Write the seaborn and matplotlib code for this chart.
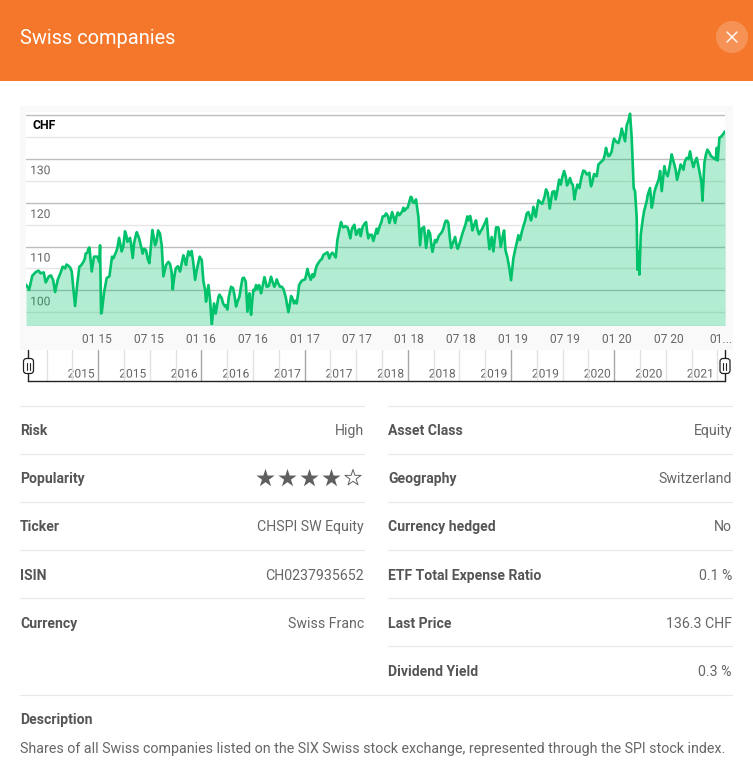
import numpy as np
import matplotlib
matplotlib.use("Agg")
import matplotlib.pyplot as plt
import matplotlib.patheffects as pe
from matplotlib.patches import Rectangle, Circle, FancyBboxPatch
from matplotlib.transforms import ScaledTranslation
import seaborn as sns

# price history (decimal year, CHF)
years = [
    2014.32, 2014.35, 2014.38, 2014.41, 2014.44, 2014.46, 2014.49, 2014.51, 2014.54, 2014.56,
    2014.58, 2014.60, 2014.625, 2014.654, 2014.673, 2014.728, 2014.76, 2014.776, 2014.792, 2014.814,
    2014.833, 2014.872, 2014.894, 2014.93, 2014.952, 2014.974, 2015.006, 2015.026, 2015.032, 2015.042,
    2015.048, 2015.07, 2015.096, 2015.122, 2015.147, 2015.176, 2015.2, 2015.215, 2015.24, 2015.272,
    2015.295, 2015.32, 2015.346, 2015.385, 2015.41, 2015.442, 2015.474, 2015.506, 2015.535, 2015.561,
    2015.59, 2015.625, 2015.641, 2015.667, 2015.705, 2015.731, 2015.76, 2015.801, 2015.833, 2015.859,
    2015.881, 2015.913, 2015.946, 2015.962, 2015.99, 2016.01, 2016.026, 2016.042, 2016.051, 2016.074,
    2016.09, 2016.106, 2016.128, 2016.144, 2016.17, 2016.202, 2016.234, 2016.256, 2016.292, 2016.311,
    2016.34, 2016.372, 2016.401, 2016.433, 2016.449, 2016.468, 2016.484, 2016.506, 2016.532, 2016.561,
    2016.58, 2016.612, 2016.635, 2016.676, 2016.708, 2016.731, 2016.763, 2016.795, 2016.817, 2016.843,
    2016.869, 2016.897, 2016.923, 2016.946, 2016.971, 2017.003, 2017.026, 2017.058, 2017.074, 2017.093,
    2017.115, 2017.147, 2017.18, 2017.218, 2017.237, 2017.266, 2017.298, 2017.314, 2017.349, 2017.372,
    2017.413, 2017.439, 2017.477, 2017.494, 2017.516, 2017.538, 2017.558, 2017.59, 2017.612, 2017.644,
    2017.66, 2017.692, 2017.724, 2017.75, 2017.782, 2017.814, 2017.84, 2017.869, 2017.894, 2017.923,
    2017.949, 2017.99, 2018.019, 2018.038, 2018.07, 2018.093, 2018.109, 2018.125, 2018.147, 2018.167,
    2018.189, 2018.205, 2018.228, 2018.253, 2018.276, 2018.308, 2018.333, 2018.356, 2018.381, 2018.407,
    2018.446, 2018.471, 2018.494, 2018.526, 2018.564, 2018.59, 2018.612, 2018.647, 2018.676, 2018.718,
    2018.75, 2018.776, 2018.798, 2018.814, 2018.84, 2018.862, 2018.885, 2018.917, 2018.93, 2018.949,
    2018.968, 2018.984, 2019.006, 2019.029, 2019.054, 2019.07, 2019.103, 2019.135, 2019.151, 2019.176,
    2019.199, 2019.221, 2019.247, 2019.295, 2019.32, 2019.337, 2019.356, 2019.381, 2019.413, 2019.446,
    2019.462, 2019.494, 2019.522, 2019.551, 2019.577, 2019.593, 2019.622, 2019.641, 2019.679, 2019.712,
    2019.737, 2019.753, 2019.782, 2019.808, 2019.824, 2019.872, 2019.897, 2019.92, 2019.952, 2019.974,
    2020.016, 2020.048, 2020.08, 2020.096, 2020.128, 2020.144, 2020.154, 2020.163, 2020.176, 2020.192,
    2020.199, 2020.212, 2020.218, 2020.231, 2020.25, 2020.263, 2020.288, 2020.32, 2020.337, 2020.362,
    2020.391, 2020.417, 2020.433, 2020.458, 2020.49, 2020.529, 2020.554, 2020.58, 2020.615, 2020.641,
    2020.673, 2020.705, 2020.737, 2020.769, 2020.801, 2020.824, 2020.843, 2020.872, 2020.907, 2020.952,
    2020.962, 2020.971, 2020.987, 2021.01, 2021.042,
]
chf = [
    101.3, 100.1, 103.3, 104.1, 104.5, 103.9, 104.1, 101.8, 103.2, 103.4,
    102.4, 99.6, 102.4, 104.1, 105.4, 105.6, 104.3, 100.2, 96.4, 101.7,
    105.4, 106.5, 108.4, 109.8, 104.3, 107.7, 107.7, 106.4, 110.3, 94.7,
    94.9, 99.4, 102.8, 103.2, 107.7, 108.2, 109.9, 112.0, 108.9, 113.5,
    111.1, 112.0, 107.4, 113.3, 111.7, 108.4, 109.2, 106.2, 113.8, 110.3,
    113.7, 110.3, 103.2, 105.8, 106.0, 100.2, 105.0, 104.3, 108.0, 105.8,
    108.9, 109.0, 102.4, 104.7, 107.7, 106.9, 102.0, 100.1, 97.4, 101.2,
    97.8, 92.1, 97.0, 94.7, 98.4, 98.2, 96.3, 95.6, 100.8, 100.5,
    96.3, 98.5, 102.7, 102.0, 95.1, 99.3, 94.4, 100.1, 101.2, 101.2,
    99.3, 103.0, 100.8, 103.1, 100.8, 102.5, 100.8, 100.3, 98.5, 95.0,
    98.7, 97.0, 97.0, 101.2, 102.2, 102.5, 104.9, 102.4, 103.7, 103.4,
    105.6, 106.8, 108.1, 108.7, 107.3, 108.6, 107.5, 111.5, 115.6, 114.4,
    114.4, 111.9, 115.0, 112.7, 113.8, 112.4, 114.6, 115.6, 111.9, 112.7,
    111.3, 114.1, 114.9, 116.9, 117.6, 115.4, 117.9, 115.4, 117.8, 117.6,
    118.9, 118.9, 121.4, 120.2, 120.8, 116.8, 110.3, 114.1, 114.5, 109.7,
    113.7, 113.0, 108.8, 111.5, 111.6, 113.0, 114.1, 115.9, 115.4, 109.7,
    112.2, 109.5, 111.1, 113.7, 116.9, 117.0, 113.7, 116.0, 112.8, 114.7,
    116.4, 109.4, 112.2, 108.9, 114.4, 114.4, 109.9, 113.7, 109.2, 107.5,
    105.0, 102.3, 107.3, 109.9, 112.6, 111.5, 114.7, 117.6, 117.9, 116.0,
    119.1, 116.8, 120.6, 120.6, 123.1, 122.3, 118.7, 122.5, 120.8, 125.3,
    124.2, 127.3, 124.0, 125.7, 124.2, 120.8, 124.2, 123.4, 127.4, 126.5,
    126.9, 123.8, 126.6, 126.1, 128.8, 129.9, 132.6, 130.7, 131.8, 134.7,
    133.7, 137.0, 134.1, 137.8, 140.4, 134.9, 128.8, 123.4, 122.7, 116.6,
    104.7, 108.9, 103.6, 112.7, 116.2, 118.1, 120.4, 123.4, 118.9, 122.5,
    124.6, 127.3, 122.7, 128.4, 126.1, 131.1, 128.8, 125.3, 128.8, 127.6,
    130.3, 131.8, 128.2, 130.3, 126.5, 120.5, 129.2, 132.2, 130.7, 129.9,
    132.6, 129.7, 134.9, 135.3, 136.4,
]

# smaller wiggles read in a second pass over the zoomed crops
years_fine = [
    2014.695, 2014.71, 2014.745, 2014.85, 2014.885, 2014.91, 2014.92,
    2015.16, 2015.19, 2015.255, 2015.285, 2015.33, 2015.36, 2015.375, 2015.425, 2015.455, 2015.49,
    2015.52, 2015.548, 2015.575, 2015.608, 2015.69, 2015.72, 2015.745, 2015.78, 2015.82, 2015.846,
    2015.87, 2015.895, 2015.93,
    2016.18, 2016.215, 2016.245, 2016.27, 2016.325, 2016.355, 2016.385, 2016.415, 2016.475, 2016.495,
    2016.52, 2016.545, 2016.57, 2016.6, 2016.625, 2016.655, 2016.69, 2016.72, 2016.745, 2016.78,
    2016.855, 2016.885, 2016.91, 2016.935,
    2017.015, 2017.04, 2017.083, 2017.105, 2017.13, 2017.165, 2017.2, 2017.25, 2017.285, 2017.33,
    2017.36, 2017.39, 2017.45, 2017.46, 2017.505, 2017.528, 2017.548, 2017.575, 2017.6, 2017.625,
    2017.70, 2017.737, 2017.77, 2017.8, 2017.827, 2017.855, 2017.882, 2017.91, 2017.936, 2017.96,
    2017.975, 2018.005, 2018.03, 2018.055,
    2018.215, 2018.24, 2018.265, 2018.29, 2018.32, 2018.345, 2018.37, 2018.395, 2018.42, 2018.435,
    2018.458, 2018.482, 2018.51, 2018.545, 2018.577, 2018.6, 2018.63, 2018.66, 2018.69, 2018.705,
    2018.735, 2018.765, 2018.9,
    2019.04, 2019.088, 2019.12, 2019.165, 2019.188, 2019.21, 2019.233, 2019.27, 2019.283, 2019.307,
    2019.4, 2019.43, 2019.478, 2019.51, 2019.535, 2019.565, 2019.585, 2019.605, 2019.63, 2019.66,
    2019.695, 2019.725, 2019.745, 2019.768, 2019.795, 2019.85, 2019.885, 2019.905, 2019.935, 2019.963,
    2019.995, 2020.032, 2020.064, 2020.112,
    2020.3, 2020.35, 2020.375, 2020.405, 2020.425, 2020.445, 2020.47, 2020.51, 2020.54, 2020.567,
    2020.6, 2020.628, 2020.655, 2020.69, 2020.72, 2020.75, 2020.785, 2020.815, 2020.857, 2020.89,
    2020.93, 2020.94,
]
chf_fine = [
    105.0, 105.9, 105.2, 105.7, 107.2, 108.6, 109.5,
    107.3, 109.0, 110.0, 112.5, 110.6, 110.9, 112.5, 110.2, 109.5, 107.2,
    110.0, 112.2, 111.2, 113.0, 106.5, 104.2, 103.0, 105.5, 106.5, 107.0,
    107.6, 108.0, 106.0,
    99.0, 97.0, 96.6, 98.5, 98.8, 97.5, 100.5, 102.9, 97.0, 97.5,
    100.0, 100.3, 100.5, 101.5, 101.9, 101.0, 102.0, 101.5, 101.6, 100.8,
    96.5, 98.0, 97.6, 99.0,
    103.6, 103.6, 103.0, 104.8, 106.2, 107.2, 108.4, 108.2, 108.0, 113.5,
    114.8, 114.7, 113.7, 114.4, 113.0, 114.0, 113.5, 115.2, 113.5, 112.7,
    113.0, 115.6, 117.0, 117.0, 116.5, 116.7, 116.9, 117.2, 118.0, 118.2,
    118.7, 120.2, 121.2, 120.0,
    110.8, 110.2, 111.0, 112.5, 113.4, 115.2, 115.9, 112.0, 110.5, 111.5,
    110.5, 110.2, 112.5, 115.0, 116.0, 116.0, 115.0, 114.0, 113.5, 114.0,
    115.5, 112.0, 112.0,
    111.0, 113.4, 116.0, 116.9, 117.2, 118.0, 118.7, 120.0, 119.8, 121.5,
    122.7, 123.0, 126.0, 126.0, 124.6, 124.5, 122.8, 122.5, 124.0, 125.8,
    127.2, 126.7, 125.0, 125.0, 126.4, 129.4, 131.0, 131.7, 130.9, 133.5,
    134.0, 135.0, 135.5, 138.8,
    122.0, 120.5, 123.5, 125.5, 125.0, 125.5, 127.0, 128.5, 130.0, 127.5,
    127.2, 128.3, 129.5, 130.0, 129.8, 129.3, 128.5, 124.5, 131.0, 131.5,
    130.3, 130.1,
]

y_major = [100, 110, 120, 130, 140]
y_minor = [95, 105, 115, 125, 135]
y_labels = ["100", "110", "120", "130", ""]
x_ticks = [2015.0, 2015.5, 2016.0, 2016.5, 2017.0, 2017.5, 2018.0, 2018.5, 2019.0, 2019.5, 2020.0, 2020.5, 2021.0]
x_labels = ["01 15", "07 15", "01 16", "07 16", "01 17", "07 17", "01 18", "07 18", "01 19", "07 19", "01 20", "07 20", "01..."]
nav_labels = ["2015", "2015", "2016", "2016", "2017", "2017", "2018", "2018", "2019", "2019", "2020", "2020", "2021"]
nav_minor = [2014.5, 2014.75, 2015.25, 2015.75, 2016.25, 2016.75, 2017.25, 2017.75, 2018.25, 2018.75, 2019.25, 2019.75, 2020.25, 2020.75]

left_rows = ["Risk", "Popularity", "Ticker", "ISIN", "Currency"]
left_vals = ["High", "", "CHSPI SW Equity", "CH0237935652", "Swiss Franc"]
right_rows = ["Asset Class", "Geography", "Currency hedged", "ETF Total Expense Ratio", "Last Price", "Dividend Yield"]
right_vals = ["Equity", "Switzerland", "No", "0.1 %", "136.3 CHF", "0.3 %"]
star_fill = [1, 1, 1, 1, 0]

sns.set_theme(style="white")
plt.rcParams["font.family"] = ["Roboto", "DejaVu Sans"]

W, H = 753, 767
fig = plt.figure(figsize=(W / 100, H / 100), dpi=100, facecolor="white")


def px_axes(x0, y0, x1, y1, zorder):
    # axes placed with pixel edges measured from the top left corner
    return fig.add_axes([x0 / W, 1 - y1 / H, (x1 - x0) / W, (y1 - y0) / H], zorder=zorder)


def shift(dx, dy):
    return ScaledTranslation(dx / 100, dy / 100, fig.dpi_scale_trans)


# page layer: header, table, text
bg = px_axes(0, 0, W, H, 0)
bg.set_xlim(0, W)
bg.set_ylim(H, 0)
bg.axis("off")
bg.add_patch(Rectangle((0, 0), W, 81, color="#F4772B", lw=0))
bg.text(20, 39, "Swiss companies", color="white", fontsize=14.4, va="center")
bg.add_patch(Circle((732, 37), 16, color="white", alpha=0.2, lw=0))
bg.plot([727, 737], [32, 42], color="white", lw=1.0)
bg.plot([727, 737], [42, 32], color="white", lw=1.0)
bg.add_patch(Rectangle((20, 106), 713, 244, color="#F9F9F9", lw=0))

line_col = "#E9E9E9"
label_col = "#555555"
value_col = "#666666"
for i in range(5):
    bg.plot([20, 364], [406 + 48 * i] * 2, color=line_col, lw=0.9)
    bg.text(20, 431 + 48.2 * i, left_rows[i], color=label_col, fontsize=10.1, fontweight="bold", va="center")
    bg.text(364, 431 + 48.2 * i, left_vals[i], color=value_col, fontsize=10.2, ha="right", va="center")
for i in range(6):
    bg.plot([388, 732], [406 + 48 * i] * 2, color=line_col, lw=0.9)
    bg.text(388, 431 + 48.2 * i, right_rows[i], color=label_col, fontsize=10.1, fontweight="bold", va="center")
    bg.text(732, 431 + 48.2 * i, right_vals[i], color=value_col, fontsize=10.2, ha="right", va="center")
bg.plot([20, 732], [695, 695], color=line_col, lw=0.9)
bg.text(20, 720, "Description", color=label_col, fontsize=10.1, fontweight="bold", va="center")
bg.text(20, 749, "Shares of all Swiss companies listed on the SIX Swiss stock exchange, represented through the SPI stock index.",
        color=value_col, fontsize=10.24, va="center")

# popularity stars
for i, f in enumerate(star_fill):
    bg.scatter(265 + 22 * i, 478, marker="*", s=190 if f else 150,
               facecolor="#5F5F5F" if f else "none", edgecolor="#5F5F5F", linewidth=0.7 if not f else 0)

# merge both reading passes along the time axis
order = np.argsort(years + years_fine)
x_all = np.array(years + years_fine)[order]
y_all = np.array(chf + chf_fine)[order]

# main chart
ax = px_axes(26, 112, 725, 325, 2)
ax.set_facecolor("white")
sns.lineplot(x=x_all, y=y_all, ax=ax, color="#00C26B", linewidth=1.9, estimator=None, zorder=4)
ax.fill_between(x_all, y_all, 90, color="#00C26B", alpha=0.3, lw=0, zorder=3)
ax.set_xlim(2014.32, 2021.041)
ax.set_ylim(92.06, 140.8)
ax.set_yticks(y_major, y_labels)
ax.set_yticks(y_minor, minor=True)
ax.set_xticks(x_ticks, x_labels)
ax.grid(True, axis="y", which="major", color="#BDBDBD", lw=1.0, zorder=1)
ax.grid(True, axis="y", which="minor", color="#E6E6E6", lw=1.0, zorder=1)
ax.set_axisbelow(True)
ax.tick_params(axis="y", which="both", length=0, pad=-3, labelsize=8.64, labelcolor="#666666")
ax.tick_params(axis="x", length=0, pad=6, labelsize=8.64, labelcolor="#666666")
for lab in ax.get_yticklabels():
    lab.set_ha("left")
    lab.set_va("center")
    lab.set_zorder(6)
    lab.set_transform(lab.get_transform() + shift(0, -11.5))
    lab.set_path_effects([pe.withStroke(linewidth=2, foreground="white")])
sns.despine(ax=ax, left=True, bottom=True)
ax.text(0.0095, 0.937, "CHF", transform=ax.transAxes, color="black", fontsize=8.8, fontweight="bold", va="center")

# range navigator under the chart
nav = px_axes(28, 350, 725, 381, 2)
nav.patch.set_alpha(0)
nav.set_xlim(2014.319, 2021.073)
nav.set_ylim(0, 1)
nav.set_yticks([])
nav.set_xticks(x_ticks, nav_labels)
nav.set_xticks(nav_minor, minor=True)
nav.grid(True, axis="x", which="major", color="#E2E2E2", lw=1.0)
nav.grid(True, axis="x", which="minor", color="#E2E2E2", lw=1.0)
for i, g in enumerate(nav.xaxis.get_major_ticks()):
    if i % 2 == 0 and i < 12:
        g.gridline.set_color("#A8A8A8")
nav.tick_params(axis="x", which="both", length=0, pad=-5, labelsize=8.64, labelcolor="#666666")
for lab in nav.get_xticklabels():
    lab.set_ha("right")
    lab.set_va("center")
    lab.set_transform(lab.get_transform() + shift(-4, 0))
    lab.set_path_effects([pe.withStroke(linewidth=3, foreground="white")])
sns.despine(ax=nav, left=True)
nav.spines["bottom"].set_color("#222222")
nav.spines["bottom"].set_linewidth(1.0)

# navigator handles on top
fg = px_axes(0, 0, W, H, 5)
fg.set_xlim(0, W)
fg.set_ylim(H, 0)
fg.patch.set_alpha(0)
fg.axis("off")
for hx in (28.5, 725):
    fg.plot([hx, hx], [350, 381], color="#222222", lw=1.0)
    fg.add_patch(FancyBboxPatch((hx - 5, 358.5), 10, 15, boxstyle="round,pad=0,rounding_size=3",
                                facecolor="white", edgecolor="#222222", lw=0.9, zorder=3))
    fg.plot([hx - 1.5, hx - 1.5], [362.5, 369.5], color="#222222", lw=0.8, zorder=4)
    fg.plot([hx + 1.5, hx + 1.5], [362.5, 369.5], color="#222222", lw=0.8, zorder=4)

fig.savefig("out.png", dpi=100)
